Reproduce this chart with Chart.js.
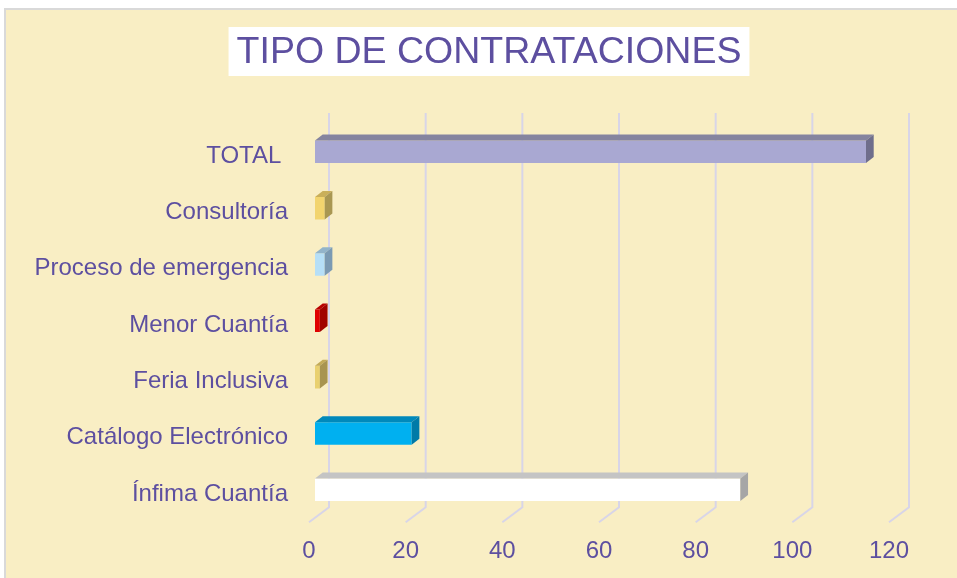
<!DOCTYPE html>
<html>
<head>
<meta charset="utf-8">
<script src="https://cdn.jsdelivr.net/npm/chart.js@4"></script>
<style>
  html, body { margin: 0; padding: 0; background: #ffffff; }
  #wrap { width: 957px; height: 578px; }
</style>
</head>
<body>
<div id="wrap"><canvas id="tipos" width="957" height="578"></canvas></div>
<script>
// datos del gráfico
const categorias = ['TOTAL ', 'Consultoría', 'Proceso de emergencia', 'Menor Cuantía', 'Feria Inclusiva', 'Catálogo Electrónico', 'Ínfima Cuantía'];
const valores = [114, 2, 2, 1, 1, 20, 88];
const ticksX = [0, 20, 40, 60, 80, 100, 120];

// colores: cara frontal, cara superior, cara lateral
const frente = ['#A9A8D2', '#F2D46E', '#B6DFF7', '#E00000', '#E9D06F', '#00B0F0', '#FFFFFF'];
const arriba = ['#85849F', '#C9AF5A', '#93B4CA', '#B80000', '#C2AA58', '#0089BB', '#C4C4C4'];
const lado = ['#6F6E8C', '#A99752', '#7B9AB3', '#A00000', '#A89450', '#007AA8', '#A6A6A6'];

const morado = '#5D4FA0';
const fuente = "'Liberation Sans', Arial, sans-serif";

// desplazamientos del efecto 3D
const PARED_DX = 20, PARED_DY = 15;   // pared del fondo respecto al piso frontal
const BARRA_DX = 6, BARRA_DY = 4.3;   // cara frontal de las barras
const PROF_DX = 7.7, PROF_DY = 6;     // profundidad de cada barra

const efecto3D = {
    id: 'efecto3D',
    afterLayout(chart) {
        // centrar el título como en la imagen original
        chart.titleBlock.left = 89;
        chart.titleBlock.right = 889;
    },
    beforeDraw(chart) {
        const ctx = chart.ctx;
        ctx.save();
        ctx.fillStyle = '#ffffff';
        ctx.fillRect(0, 0, chart.width, chart.height);
        // fondo beige con borde gris
        ctx.fillStyle = '#F9EEC4';
        ctx.fillRect(5, 9, chart.width - 5, chart.height - 9);
        ctx.strokeStyle = '#D9D9D9';
        ctx.lineWidth = 2;
        ctx.beginPath();
        ctx.moveTo(5, chart.height);
        ctx.lineTo(5, 9);
        ctx.lineTo(chart.width, 9);
        ctx.stroke();
        // recuadro blanco del título
        const t = chart.titleBlock;
        ctx.font = '37.5px ' + fuente;
        const w = ctx.measureText(chart.options.plugins.title.text).width;
        const cx = (t.left + t.right) / 2;
        const cy = t.top + t.options.padding.top + 22;
        ctx.fillStyle = '#ffffff';
        ctx.fillRect(cx - w / 2 - 8, cy - 25, w + 16, 49);
        ctx.restore();
    },
    beforeDatasetsDraw(chart) {
        const ctx = chart.ctx;
        const x = chart.scales.x;
        const area = chart.chartArea;
        ctx.save();
        ctx.strokeStyle = '#D8D5E8';
        ctx.lineWidth = 2;
        x.ticks.forEach(t => {
            const px = x.getPixelForValue(t.value);
            ctx.beginPath();
            ctx.moveTo(px + PARED_DX, area.top - PARED_DY);
            ctx.lineTo(px + PARED_DX, area.bottom - PARED_DY);
            ctx.lineTo(px, area.bottom);
            ctx.stroke();
        });
        ctx.restore();
        ctx.save();
        ctx.translate(BARRA_DX, -BARRA_DY);
    },
    afterDatasetsDraw(chart) {
        const ctx = chart.ctx;
        const meta = chart.getDatasetMeta(0);
        meta.data.forEach((bar, i) => {
            const p = bar.getProps(['x', 'y', 'base', 'height'], true);
            const izq = Math.min(p.base, p.x), der = Math.max(p.base, p.x);
            const sup = p.y - p.height / 2, inf = p.y + p.height / 2;
            // cara superior
            ctx.fillStyle = arriba[i];
            ctx.beginPath();
            ctx.moveTo(izq, sup);
            ctx.lineTo(izq + PROF_DX, sup - PROF_DY);
            ctx.lineTo(der + PROF_DX, sup - PROF_DY);
            ctx.lineTo(der, sup);
            ctx.closePath();
            ctx.fill();
            // cara lateral
            ctx.fillStyle = lado[i];
            ctx.beginPath();
            ctx.moveTo(der, sup);
            ctx.lineTo(der + PROF_DX, sup - PROF_DY);
            ctx.lineTo(der + PROF_DX, inf - PROF_DY);
            ctx.lineTo(der, inf);
            ctx.closePath();
            ctx.fill();
        });
        ctx.restore();
    }
};

document.addEventListener('DOMContentLoaded', () => {
    const ctx = document.getElementById('tipos').getContext('2d');

    new Chart(ctx, {
        type: 'bar',
        data: {
            labels: categorias,
            datasets: [{
                label: 'Tipo de contrataciones',
                data: valores,
                backgroundColor: frente,
                borderWidth: 0,
                categoryPercentage: 1,
                barPercentage: 0.4
            }]
        },
        options: {
            indexAxis: 'y',
            responsive: false,
            animation: false,
            devicePixelRatio: 1,
            layout: {
                padding: { left: 0, right: 68, top: 0, bottom: 0 }
            },
            plugins: {
                legend: { display: false },
                tooltip: { enabled: false },
                title: {
                    display: true,
                    text: 'TIPO DE CONTRATACIONES',
                    color: morado,
                    font: { family: fuente, size: 37.5, weight: 'normal', lineHeight: 1.2 },
                    padding: { top: 30, bottom: 53 }
                }
            },
            scales: {
                x: {
                    min: 0,
                    max: 120,
                    afterBuildTicks: s => { s.ticks = ticksX.map(v => ({ value: v })); },
                    afterFit: s => { s.height -= 3; },
                    grid: { display: false, drawTicks: false },
                    border: { display: false },
                    ticks: {
                        color: morado,
                        padding: 15,
                        font: { family: fuente, size: 24 }
                    }
                },
                y: {
                    afterFit: s => { s.width = 309; },
                    grid: { display: false, drawTicks: false },
                    border: { display: false },
                    ticks: {
                        color: morado,
                        padding: 21,
                        font: { family: fuente, size: 24 }
                    }
                }
            }
        },
        plugins: [efecto3D]
    });
});
</script>
</body>
</html>
